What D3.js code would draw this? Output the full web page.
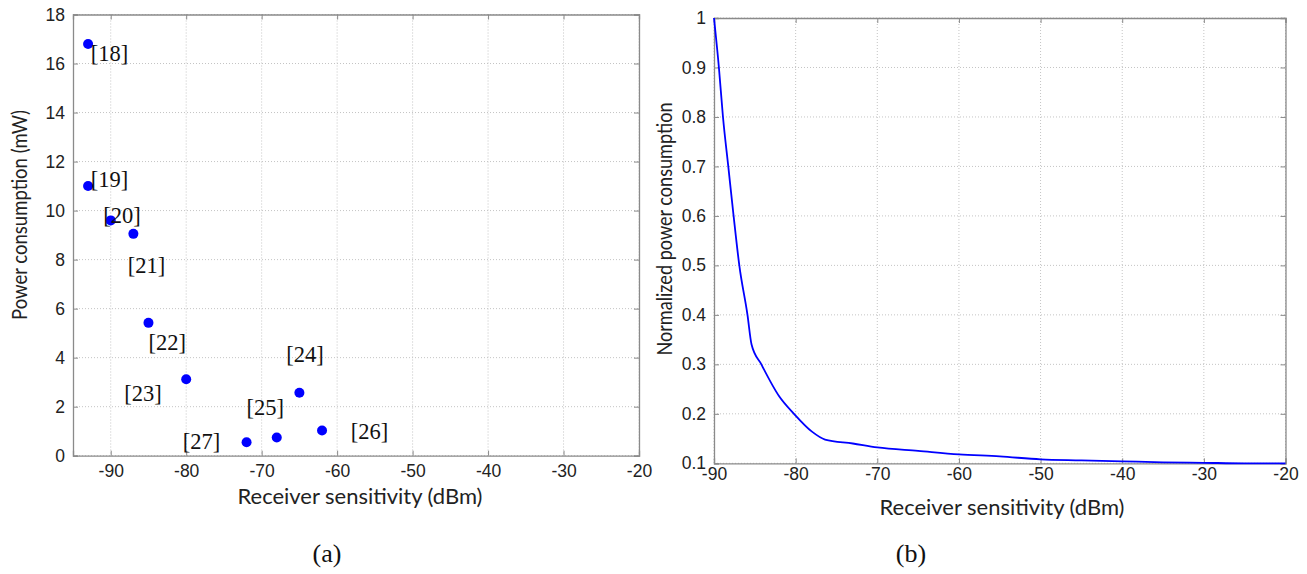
<!DOCTYPE html>
<html><head><meta charset="utf-8">
<script src="https://cdn.jsdelivr.net/npm/d3@7"></script>
<style>
body{margin:0;background:#fff;}
svg{display:block;}
.tick text{font-family:"Liberation Sans",Arial,sans-serif;font-size:17.5px;fill:#222;}
.xlabel{font-family:Lato,"Open Sans",sans-serif;font-size:21.5px;fill:#222;}
.ylabel{font-family:Lato,"Open Sans",sans-serif;font-size:20.5px;fill:#222;}
.ref{font-family:"Liberation Serif","Times New Roman",serif;font-size:22.5px;fill:#111;}
.cap{font-family:"Liberation Serif","Times New Roman",serif;font-size:26px;fill:#111;}
</style></head>
<body>
<svg id="c" width="1307" height="574"></svg>
<script>
// ---- Data: panel (a) ----
const refLabels = ["[18]","[19]","[20]","[21]","[22]","[23]","[24]","[25]","[26]","[27]"];
const sensitivity = [-93, -93, -90, -87, -85, -80, -65, -68, -62, -72];
const power = [16.8, 11.0, 9.6, 9.05, 5.42, 3.12, 2.57, 0.74, 1.03, 0.55];
// label anchor points in data units (text placed like MATLAB text(x,y,...))
const labelX = [-92.65, -92.65, -91.0, -87.75, -85.0, -88.2, -66.75, -72.0, -58.2, -80.45];
const labelY = [16.42, 11.29, 9.83, 7.76, 4.65, 2.55, 4.14, 2.0, 1.01, 0.6];
const aXTicks = [-90, -80, -70, -60, -50, -40, -30, -20];
const aYTicks = [0, 2, 4, 6, 8, 10, 12, 14, 16, 18];

// ---- Data: panel (b) ----
const curveX = [-90, -89.4, -88.9, -88.25, -87.6, -86.9, -85.9, -85.4, -84.2, -82, -80.2, -78, -76.4, -73, -70, -65, -60, -55, -50, -45, -40, -35, -30, -25, -20];
const curveY = [1.0, 0.9, 0.8, 0.7, 0.6, 0.5, 0.4, 0.34, 0.3, 0.235, 0.2, 0.164, 0.148, 0.14, 0.132, 0.125, 0.118, 0.114, 0.108, 0.106, 0.104, 0.102, 0.101, 0.1, 0.1];
const bXTicks = [-90, -80, -70, -60, -50, -40, -30, -20];
const bYTicks = [0.1, 0.2, 0.3, 0.4, 0.5, 0.6, 0.7, 0.8, 0.9, 1];

const svg = d3.select("#c");

function panel(o) {
  const g = svg.append("g");
  const x = d3.scaleLinear().domain(o.xd).range([o.l, o.r]);
  const y = d3.scaleLinear().domain(o.yd).range([o.b, o.t]);
  // grid
  g.append("g").selectAll("line").data(o.xt).join("line")
    .attr("x1", d => x(d)).attr("x2", d => x(d)).attr("y1", o.t).attr("y2", o.b)
    .attr("stroke", "#c4c4c4").attr("stroke-width", 1).attr("stroke-dasharray", "1,2");
  g.append("g").selectAll("line").data(o.yt).join("line")
    .attr("y1", d => y(d)).attr("y2", d => y(d)).attr("x1", o.l).attr("x2", o.r)
    .attr("stroke", "#c4c4c4").attr("stroke-width", 1).attr("stroke-dasharray", "1,2");
  // axes
  const fmt = d => String(d);
  const ax = g.append("g").attr("transform", `translate(0,${o.b})`)
    .call(d3.axisBottom(x).tickValues(o.xt).tickSize(-5).tickPadding(o.xpad).tickFormat(fmt));
  const ay = g.append("g").attr("transform", `translate(${o.l},0)`)
    .call(d3.axisLeft(y).tickValues(o.yt).tickSize(-5).tickPadding(o.ypad).tickFormat(fmt));
  const ax2 = g.append("g").attr("transform", `translate(0,${o.t})`)
    .call(d3.axisTop(x).tickValues(o.xt).tickSize(-5).tickFormat(""));
  const ay2 = g.append("g").attr("transform", `translate(${o.r},0)`)
    .call(d3.axisRight(y).tickValues(o.yt).tickSize(-5).tickFormat(""));
  [ax, ay, ax2, ay2].forEach(a => {
    a.selectAll("path").attr("stroke", "#8a8a8a").attr("stroke-width", 1.3);
    a.selectAll("line").attr("stroke", "#8a8a8a");
  });
  return {g, x, y};
}

// Panel (a)
const A = panel({xd: [-95, -20], yd: [0, 18], l: 73, r: 639, t: 14.5, b: 455.7,
  xt: aXTicks, yt: aYTicks, xpad: 9, ypad: 8});
A.g.append("g").selectAll("circle").data(sensitivity).join("circle")
  .attr("cx", d => A.x(d)).attr("cy", (d, i) => A.y(power[i])).attr("r", 5)
  .attr("fill", "#0000ff");
A.g.append("g").selectAll("text").data(refLabels).join("text").attr("class", "ref")
  .attr("x", (d, i) => A.x(labelX[i])).attr("y", (d, i) => A.y(labelY[i]))
  .attr("dy", "0.35em").text(d => d);
svg.append("text").attr("class", "xlabel").attr("text-anchor", "middle")
  .attr("x", 360).attr("y", 504).attr("textLength", 245).attr("lengthAdjust", "spacingAndGlyphs")
  .text("Receiver sensitivity (dBm)");
svg.append("text").attr("class", "ylabel").attr("text-anchor", "middle")
  .attr("transform", "translate(27,215) rotate(-90)")
  .attr("textLength", 210).attr("lengthAdjust", "spacingAndGlyphs")
  .text("Power consumption (mW)");
svg.append("text").attr("class", "cap").attr("text-anchor", "middle")
  .attr("x", 327).attr("y", 562).text("(a)");

// Panel (b)
const B = panel({xd: [-90, -20], yd: [0.1, 1], l: 714, r: 1285.5, t: 18, b: 463.3,
  xt: bXTicks, yt: bYTicks, xpad: 4, ypad: 8});
B.g.append("path").datum(curveX)
  .attr("d", d3.line().x(d => B.x(d)).y((d, i) => B.y(curveY[i])).curve(d3.curveMonotoneX))
  .attr("fill", "none").attr("stroke", "#0000ff").attr("stroke-width", 1.8);
svg.append("text").attr("class", "xlabel").attr("text-anchor", "middle")
  .attr("x", 1002).attr("y", 515).attr("textLength", 245).attr("lengthAdjust", "spacingAndGlyphs")
  .text("Receiver sensitivity (dBm)");
svg.append("text").attr("class", "ylabel").attr("text-anchor", "middle")
  .attr("transform", "translate(672,229) rotate(-90)")
  .attr("textLength", 253).attr("lengthAdjust", "spacingAndGlyphs")
  .text("Normalized power consumption");
svg.append("text").attr("class", "cap").attr("text-anchor", "middle")
  .attr("x", 911).attr("y", 562).text("(b)");
</script>
</body></html>
